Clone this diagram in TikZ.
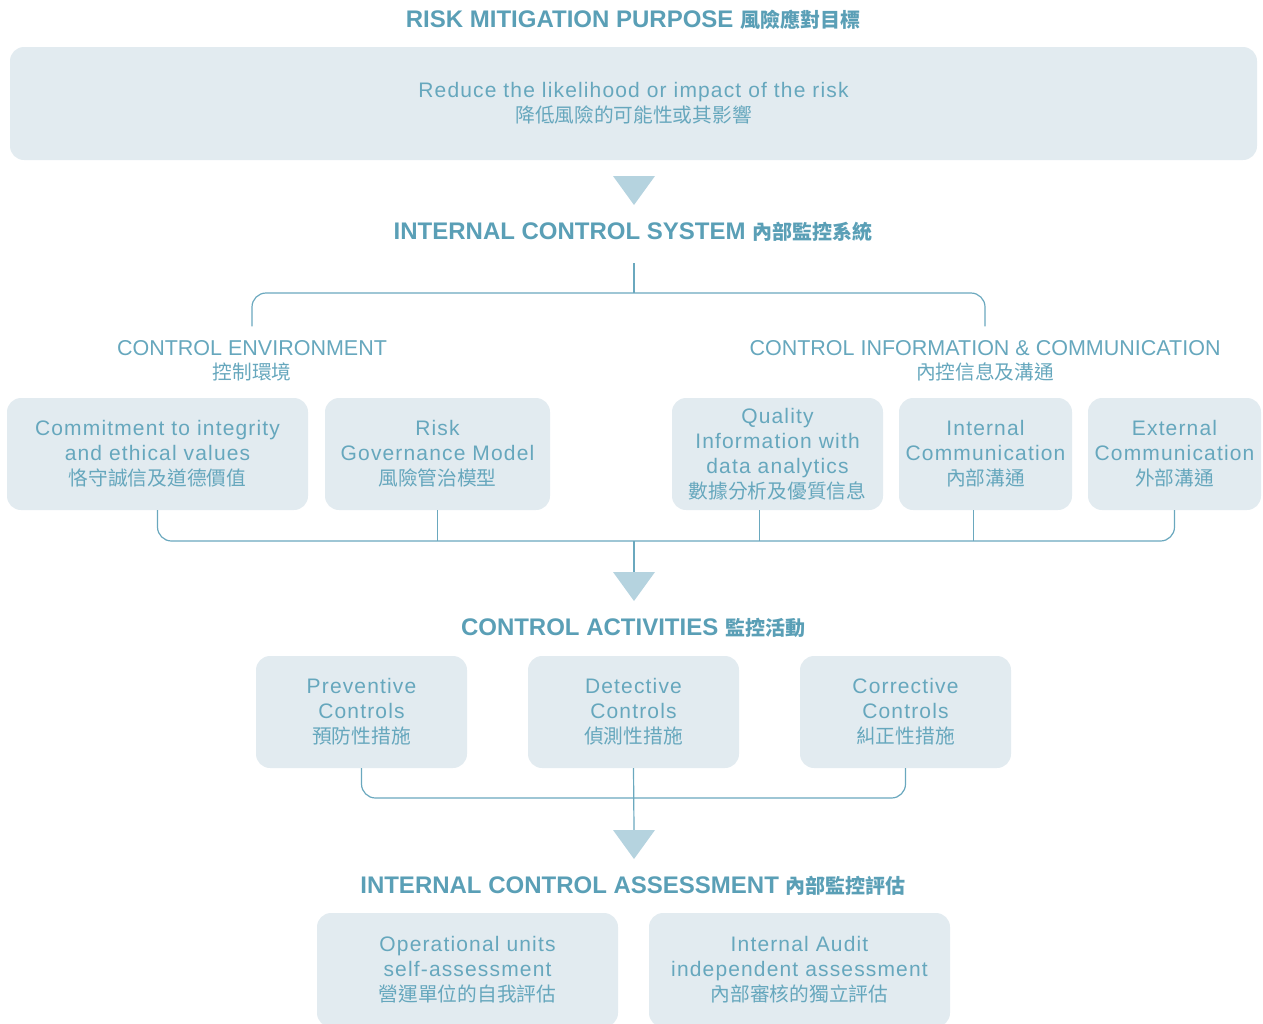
\documentclass[tikz,border=0pt]{standalone}
\usepackage{fontspec}
\setmainfont{Liberation Sans}
\newfontfamily\bodyfont[LetterSpace=5.5]{Liberation Sans}
\newfontfamily\cjk{Noto Sans CJK TC}
\usetikzlibrary{positioning,calc}
\definecolor{ictitle}{HTML}{5A9FB6}
\definecolor{ictext}{HTML}{66A7BD}
\definecolor{icbox}{HTML}{E2EBF0}
\definecolor{ictri}{HTML}{B5D3DF}
\definecolor{icline}{HTML}{6AA8BE}
\newcommand\zh[1]{{\cjk\fontsize{19.7}{25}\selectfont #1}}
\newcommand\zhhead[1]{{\cjk\bfseries\fontsize{20}{25}\selectfont #1}}
\tikzset{
  headline/.style={font=\fontsize{24}{28}\selectfont\bfseries,text=ictitle},
  grouphead/.style={font=\fontsize{21.5}{24}\selectfont,text=ictext,align=center,
                    inner xsep=4pt,inner ysep=14pt},
  box/.style={fill=icbox,rounded corners=14pt,align=center,text=ictext,
              font=\bodyfont\fontsize{21}{25}\selectfont,inner sep=0pt},
  conn/.style={draw=icline,line width=1.2pt,rounded corners=14pt},
}

\begin{document}
\begin{tikzpicture}[x=1pt,y=-1pt]
  \clip (0,0) rectangle (1263,1023);

  % ---- Risk mitigation purpose -----------------------------------
  \node[headline] (purpose) at (633,20) {RISK MITIGATION PURPOSE \zhhead{風險應對目標}};
  \node[box,minimum width=1247pt,minimum height=113pt] (reduce) at (633.5,103.5)
    {Reduce the likelihood or impact of the risk\\\zh{降低風險的可能性或其影響}};
  \coordinate (tri1) at (634,176);
  \fill[ictri] (tri1) ++(-21,0) -- ++(42,0) -- ++(-21,29) -- cycle;

  % ---- Internal control system -----------------------------------
  \node[headline] (system) at (633,232) {INTERNAL CONTROL SYSTEM \zhhead{內部監控系統}};
  \coordinate (systop) at (634,263);
  \coordinate (sysfork) at (634,293);
  \node[grouphead] (envhead) at (252,361) {CONTROL ENVIRONMENT\\\zh{控制環境}};
  \node[grouphead] (infohead) at (985,361) {CONTROL INFORMATION \& COMMUNICATION\\\zh{內控信息及溝通}};
  \draw[conn] (systop) -- (sysfork);
  \draw[conn] (envhead.north) |- (sysfork) -| (infohead.north);

  % Components
  \node[box,minimum width=301pt,minimum height=112pt] (integrity) at (157.5,454)
    {Commitment to integrity\\and ethical values\\\zh{恪守誠信及道德價值}};
  \node[box,minimum width=225pt,minimum height=112pt] (governance) at (437.5,454)
    {Risk\\Governance Model\\\zh{風險管治模型}};
  \node[box,minimum width=211pt,minimum height=112pt] (quality) at (777.5,454)
    {Quality\\Information with\\data analytics\\\zh{數據分析及優質信息}};
  \node[box,minimum width=173pt,minimum height=112pt] (internal) at (985.5,454)
    {Internal\\Communication\\\zh{內部溝通}};
  \node[box,minimum width=173pt,minimum height=112pt] (external) at (1174.5,454)
    {External\\Communication\\\zh{外部溝通}};

  \coordinate (bus1) at (634,541);
  \draw[conn] (integrity.south) |- (bus1) -| (external.south);
  \draw[conn] (governance.south) -- (governance.south |- bus1);
  \draw[conn] ([xshift=-18pt]quality.south) -- ([xshift=-18pt]quality.south |- bus1);
  \draw[conn] ([xshift=-12pt]internal.south) -- ([xshift=-12pt]internal.south |- bus1);
  \coordinate (tri2) at (634,572);
  \draw[conn] (bus1) -- (tri2);
  \fill[ictri] (tri2) ++(-21,0) -- ++(42,0) -- ++(-21,29) -- cycle;

  % ---- Control activities ----------------------------------------
  \node[headline] (activities) at (633,628) {CONTROL ACTIVITIES \zhhead{監控活動}};
  \node[box,minimum width=211pt,minimum height=112pt] (preventive) at (361.5,712)
    {Preventive\\Controls\\\zh{預防性措施}};
  \node[box,minimum width=211pt,minimum height=112pt] (detective) at (633.5,712)
    {Detective\\Controls\\\zh{偵測性措施}};
  \node[box,minimum width=211pt,minimum height=112pt] (corrective) at (905.5,712)
    {Corrective\\Controls\\\zh{糾正性措施}};

  \coordinate (bus2) at (634,798);
  \draw[conn] (preventive.south) |- (bus2) -| (corrective.south);
  \coordinate (tri3) at (634,830);
  \draw[conn] (detective.south) -- (tri3);
  \fill[ictri] (tri3) ++(-21,0) -- ++(42,0) -- ++(-21,29) -- cycle;

  % ---- Internal control assessment -------------------------------
  \node[headline] (assessment) at (633,886) {INTERNAL CONTROL ASSESSMENT \zhhead{內部監控評估}};
  \node[box,minimum width=301pt,minimum height=114pt] (operational) at (467.5,970)
    {Operational units\\self-assessment\\\zh{營運單位的自我評估}};
  \node[box,minimum width=301pt,minimum height=114pt] (audit) at (799.5,970)
    {Internal Audit\\independent assessment\\\zh{內部審核的獨立評估}};

\end{tikzpicture}
\end{document}
